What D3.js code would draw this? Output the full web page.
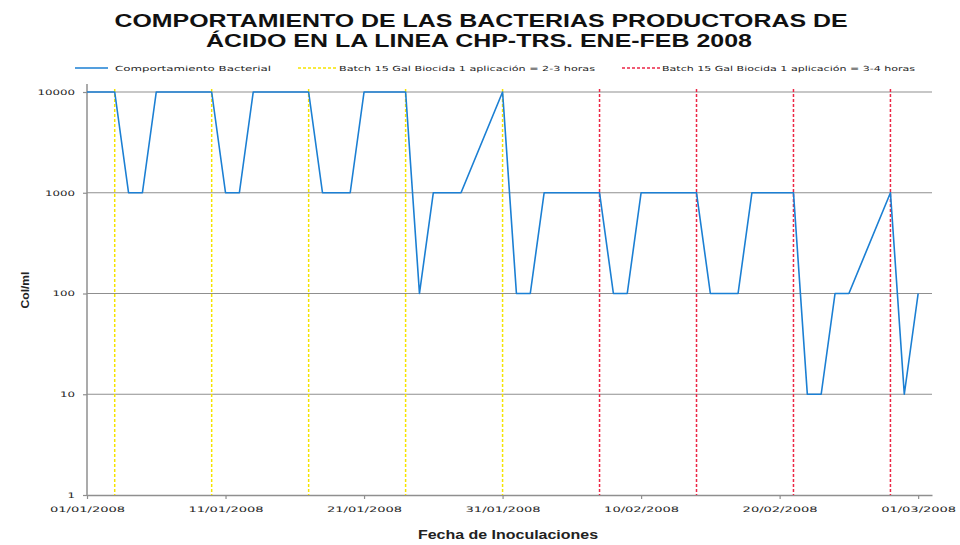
<!DOCTYPE html>
<html>
<head>
<meta charset="utf-8">
<script src="https://cdn.jsdelivr.net/npm/d3@7"></script>
<style>
  body { margin: 0; background: #fff; }
  svg { display: block; }
</style>
</head>
<body>
<div id="chart"></div>
<script>
// data
const dates = ["2008-01-01", "2008-01-03", "2008-01-04", "2008-01-05", "2008-01-06",
  "2008-01-10", "2008-01-11", "2008-01-12", "2008-01-13",
  "2008-01-17", "2008-01-18", "2008-01-20", "2008-01-21",
  "2008-01-24", "2008-01-25", "2008-01-26", "2008-01-28",
  "2008-01-31", "2008-02-01", "2008-02-02", "2008-02-03",
  "2008-02-07", "2008-02-08", "2008-02-09", "2008-02-10",
  "2008-02-14", "2008-02-15", "2008-02-17", "2008-02-18",
  "2008-02-21", "2008-02-22", "2008-02-23", "2008-02-24", "2008-02-25",
  "2008-02-28", "2008-02-29", "2008-03-01"];
const values = [10000, 10000, 1000, 1000, 10000,
  10000, 1000, 1000, 10000,
  10000, 1000, 1000, 10000,
  10000, 100, 1000, 1000,
  10000, 100, 100, 1000,
  1000, 100, 100, 1000,
  1000, 100, 100, 1000,
  1000, 10, 10, 100, 100,
  1000, 10, 100];
const yellowDates = ["2008-01-03", "2008-01-10", "2008-01-17", "2008-01-24", "2008-01-31"];
const redDates = ["2008-02-07", "2008-02-14", "2008-02-21", "2008-02-28"];
const xTicks = ["2008-01-01", "2008-01-11", "2008-01-21", "2008-01-31", "2008-02-10", "2008-02-20", "2008-03-01"];
const yTicks = [1, 10, 100, 1000, 10000];
const seriesNames = ["Comportamiento Bacterial",
  "Batch 15 Gal Biocida 1 aplicación = 2-3 horas",
  "Batch 15 Gal Biocida 1 aplicación = 3-4 horas"];

const W = 960, H = 545;
const parse = d3.utcParse("%Y-%m-%d");
const fmt = d3.utcFormat("%d/%m/%Y");

const svg = d3.select("#chart").append("svg").attr("width", W).attr("height", H);

const x = d3.scaleUtc().domain([parse("2008-01-01"), parse("2008-03-02")]).range([87, 932]);
const y = d3.scaleLog().domain([1, 10000]).range([495, 92]);

const blue = "#1b7fd3", yellow = "#f5e400", red = "#ec2645";

// Title
const title = svg.append("g").attr("font-family", "Liberation Sans, Arial, sans-serif")
  .attr("font-weight", "bold").attr("font-size", "19px").attr("fill", "#111")
  .attr("text-anchor", "middle");
title.append("text").attr("x", 481).attr("y", 27)
  .attr("textLength", 733).attr("lengthAdjust", "spacingAndGlyphs")
  .text("COMPORTAMIENTO DE LAS BACTERIAS PRODUCTORAS DE");
title.append("text").attr("x", 479).attr("y", 47)
  .attr("textLength", 546).attr("lengthAdjust", "spacingAndGlyphs")
  .text("ÁCIDO EN LA LINEA CHP-TRS. ENE-FEB 2008");

// Legend
const legend = svg.append("g").attr("font-family", "DejaVu Sans, sans-serif")
  .attr("font-size", "7px").attr("fill", "#222");
const legItems = [
  { name: seriesNames[0], color: blue, dash: null, x1: 75, x2: 108, tx: 115, tw: 156 },
  { name: seriesNames[1], color: yellow, dash: "3,2", x1: 298, x2: 337, tx: 339, tw: 256 },
  { name: seriesNames[2], color: red, dash: "3,2", x1: 622, x2: 660, tx: 662, tw: 253 }
];
legItems.forEach(d => {
  legend.append("line").attr("x1", d.x1).attr("x2", d.x2).attr("y1", 68).attr("y2", 68)
    .attr("stroke", d.color).attr("stroke-width", 1.5).attr("stroke-dasharray", d.dash);
  legend.append("text").attr("x", d.tx).attr("y", 70.5)
    .attr("textLength", d.tw).attr("lengthAdjust", "spacingAndGlyphs").text(d.name);
});

// Gridlines
svg.append("g").selectAll("line").data(yTicks.filter(v => v > 1)).join("line")
  .attr("x1", 87).attr("x2", 932).attr("y1", d => y(d)).attr("y2", d => y(d))
  .attr("stroke", "#8f8f8f").attr("stroke-width", 1.2);

// Axes
const xAxis = svg.append("g").attr("transform", "translate(0,495)")
  .call(d3.axisBottom(x).tickValues(xTicks.map(parse)).tickFormat(fmt).tickSize(4).tickSizeOuter(0));
const yAxis = svg.append("g").attr("transform", "translate(87,0)")
  .call(d3.axisLeft(y).tickValues(yTicks).tickFormat(d3.format("d")).tickSize(4).tickSizeOuter(0));
[xAxis, yAxis].forEach(a => {
  a.select(".domain").attr("stroke", "#8f8f8f").attr("stroke-width", 1.5);
  a.selectAll(".tick line").attr("stroke", "#8f8f8f").attr("stroke-width", 1.2);
  a.selectAll(".tick text").attr("font-family", "DejaVu Sans, sans-serif")
    .attr("font-size", "7.5px").attr("fill", "#222")
    .attr("lengthAdjust", "spacingAndGlyphs")
    .attr("textLength", function() { return this.textContent.length * 7.5; });
});
yAxis.select(".domain").attr("d", "M0,84V495");
xAxis.selectAll(".tick text").attr("dy", "1.3em");
yAxis.selectAll(".tick text").attr("x", -12);

// Dashed reference lines
svg.append("g").selectAll("line").data(yellowDates).join("line")
  .attr("x1", d => x(parse(d))).attr("x2", d => x(parse(d)))
  .attr("y1", 89).attr("y2", 495)
  .attr("stroke", yellow).attr("stroke-width", 1.5).attr("stroke-dasharray", "3,2");
svg.append("g").selectAll("line").data(redDates).join("line")
  .attr("x1", d => x(parse(d))).attr("x2", d => x(parse(d)))
  .attr("y1", 89).attr("y2", 495)
  .attr("stroke", red).attr("stroke-width", 1.5).attr("stroke-dasharray", "3,2");

// Series line
const pts = dates.map((d, i) => [parse(d), values[i]]);
svg.append("path").datum(pts)
  .attr("fill", "none").attr("stroke", blue).attr("stroke-width", 1.6)
  .attr("stroke-linejoin", "round")
  .attr("d", d3.line().x(d => x(d[0])).y(d => y(d[1])));

// Axis titles
svg.append("text").attr("x", 508).attr("y", 539).attr("text-anchor", "middle")
  .attr("font-family", "Liberation Sans, Arial, sans-serif").attr("font-weight", "bold")
  .attr("font-size", "12px").attr("fill", "#222")
  .attr("textLength", 180).attr("lengthAdjust", "spacingAndGlyphs")
  .text("Fecha de Inoculaciones");
svg.append("text").attr("transform", "translate(29,290) rotate(-90)").attr("text-anchor", "middle")
  .attr("font-family", "Liberation Sans, Arial, sans-serif").attr("font-weight", "bold")
  .attr("font-size", "11px").attr("fill", "#222")
  .attr("textLength", 37).attr("lengthAdjust", "spacingAndGlyphs")
  .text("Col/ml");
</script>
</body>
</html>
